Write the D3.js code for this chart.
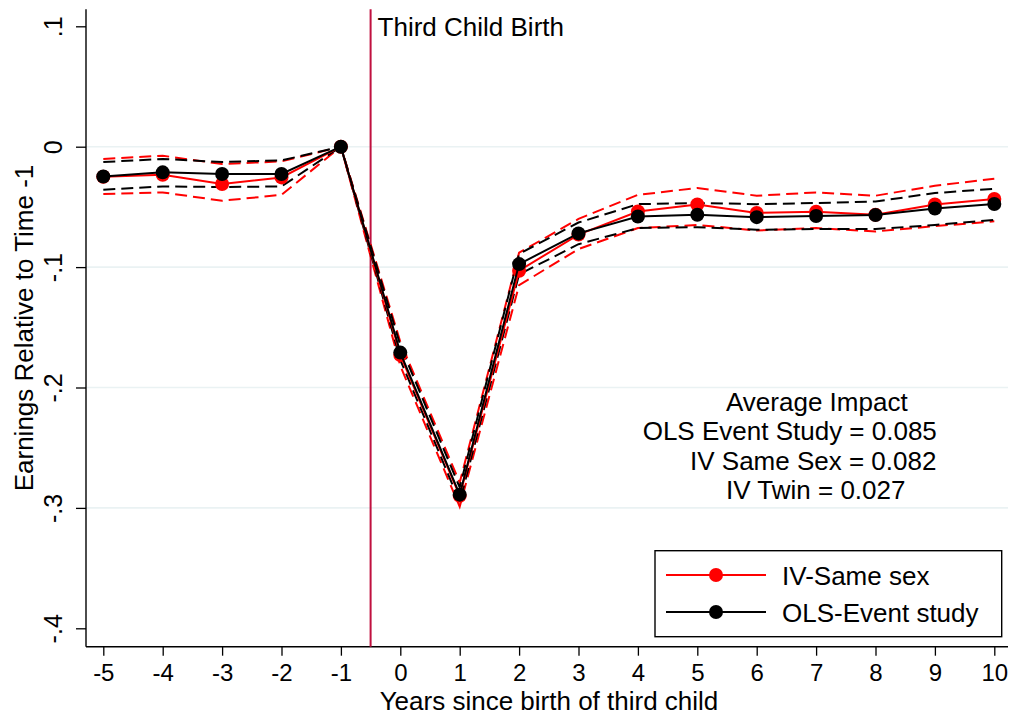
<!DOCTYPE html>
<html><head><meta charset="utf-8">
<script src="https://cdn.jsdelivr.net/npm/d3@7"></script>
<style>
html,body{margin:0;padding:0;background:#fff;}
svg{display:block;font-family:"Liberation Sans",Arial,Helvetica,sans-serif;}
</style></head>
<body>
<svg id="chart" width="1011" height="716"></svg>
<script>
const years = [-5,-4,-3,-2,-1,0,1,2,3,4,5,6,7,8,9,10];
const ols   = [-0.0247,-0.0213,-0.0227,-0.0227,0,-0.171,-0.289,-0.0975,-0.072,-0.058,-0.0565,-0.0585,-0.0576,-0.0568,-0.0513,-0.0476];
const olsLo = [-0.0357,-0.033,-0.0335,-0.033,0,-0.177,-0.295,-0.106,-0.081,-0.0676,-0.0668,-0.069,-0.0684,-0.0684,-0.065,-0.0607];
const olsHi = [-0.0127,-0.0102,-0.0127,-0.0114,0,-0.165,-0.283,-0.089,-0.063,-0.0477,-0.0468,-0.0477,-0.0468,-0.0455,-0.0385,-0.035];
const iv    = [-0.025,-0.0233,-0.031,-0.0255,0,-0.173,-0.290,-0.103,-0.073,-0.0538,-0.048,-0.055,-0.054,-0.0565,-0.048,-0.0435];
const ivLo  = [-0.0393,-0.038,-0.0449,-0.040,0,-0.182,-0.299,-0.115,-0.085,-0.0676,-0.065,-0.0696,-0.0676,-0.0704,-0.066,-0.062];
const ivHi  = [-0.0102,-0.0075,-0.0144,-0.0122,0,-0.162,-0.279,-0.088,-0.060,-0.040,-0.0343,-0.0407,-0.038,-0.0407,-0.0324,-0.0266];
const xTickLabels = ["-5","-4","-3","-2","-1","0","1","2","3","4","5","6","7","8","9","10"];
const yTicks = [0.1,0,-0.1,-0.2,-0.3,-0.4];
const yTickLabels = [".1","0","-.1","-.2","-.3","-.4"];
const gridVals = [0,-0.1,-0.2,-0.3];
const eventX = -0.5;
const eventLabel = "Third Child Birth";
const legendLabels = ["IV-Same sex","OLS-Event study"];
const noteLines = ["Average Impact","OLS Event Study = 0.085","IV Same Sex = 0.082","IV Twin = 0.027"];
const xTitle = "Years since birth of third child";
const yTitle = "Earnings Relative to Time -1";

const svg = d3.select("#chart");
const x = d3.scaleLinear().domain([-5,10]).range([103.3,994.3]);
const y = d3.scaleLinear().domain([-0.4,0.1]).range([628.3,26.3]);
const pLeft = 86, pRight = 1008, pTop = 9.3, pBottom = 646.7;

// grid
svg.append("g").selectAll("line").data(gridVals).join("line")
  .attr("x1",pLeft).attr("x2",pRight).attr("y1",d=>y(d)).attr("y2",d=>y(d))
  .attr("stroke","#eaf2f3").attr("stroke-width",1.6);

// axes
const yAxis = d3.axisLeft(y).tickValues(yTicks).tickSize(10).tickSizeOuter(0)
  .tickFormat((d,i)=>yTickLabels[i]);
const gy = svg.append("g").attr("transform",`translate(${pLeft},0)`).call(yAxis);
gy.select(".domain").remove();
gy.selectAll(".tick line").attr("stroke","#000").attr("stroke-width",1.3);
gy.selectAll(".tick text").attr("font-size",25).attr("fill","#000")
  .attr("text-anchor","middle").attr("x",null).attr("dy",null)
  .attr("transform","translate(-24,0) rotate(-90)");
svg.append("line").attr("x1",pLeft).attr("x2",pLeft).attr("y1",pTop).attr("y2",pBottom)
  .attr("stroke","#000").attr("stroke-width",1.4);

const xAxis = d3.axisBottom(x).tickValues(years).tickSize(9).tickSizeOuter(0)
  .tickFormat((d,i)=>xTickLabels[i]);
const gx = svg.append("g").attr("transform",`translate(0,${pBottom})`).call(xAxis);
gx.select(".domain").remove();
gx.selectAll(".tick line").attr("stroke","#000").attr("stroke-width",1.3);
gx.selectAll(".tick text").attr("font-size",24).attr("fill","#000").attr("y",34).attr("dy",null);
svg.append("line").attr("x1",pLeft).attr("x2",pRight).attr("y1",pBottom).attr("y2",pBottom)
  .attr("stroke","#000").attr("stroke-width",1.4);

// titles
svg.append("text").attr("x",549).attr("y",710).attr("text-anchor","middle")
  .attr("font-size",26).text(xTitle);
svg.append("text").attr("transform",`translate(33,328) rotate(-90)`).attr("text-anchor","middle")
  .attr("font-size",26).text(yTitle);

// event line
svg.append("line").attr("x1",x(eventX)).attr("x2",x(eventX)).attr("y1",pTop).attr("y2",pBottom)
  .attr("stroke","#c0103f").attr("stroke-width",2);
svg.append("text").attr("x",x(eventX)+7).attr("y",36).attr("font-size",26).text(eventLabel);

// series
const line = d3.line().x((d,i)=>x(years[i])).y(d=>y(d));
function dashed(arr,col){
  svg.append("path").attr("d",line(arr)).attr("fill","none").attr("stroke",col)
    .attr("stroke-width",2).attr("stroke-dasharray","12,6");
}
dashed(ivHi,"#ff0000"); dashed(ivLo,"#ff0000");
dashed(olsHi,"#000"); dashed(olsLo,"#000");
function solid(arr,col){
  svg.append("path").attr("d",line(arr)).attr("fill","none").attr("stroke",col).attr("stroke-width",2);
  svg.append("g").selectAll("circle").data(arr).join("circle")
    .attr("cx",(d,i)=>x(years[i])).attr("cy",d=>y(d)).attr("r",7).attr("fill",col);
}
solid(iv,"#ff0000");
solid(ols,"#000");

// note
const noteX = [726,642.7,690,726];
const noteY = [411,440,469.5,499];
noteLines.forEach((t,i)=>{
  svg.append("text").attr("x",noteX[i]).attr("y",noteY[i]).attr("font-size",26).text(t);
});

// legend
svg.append("rect").attr("x",655).attr("y",550.7).attr("width",346.7).attr("height",86)
  .attr("fill","#fff").attr("stroke","#000").attr("stroke-width",1.4);
const legCols = ["#ff0000","#000"];
const legY = [575,612];
legendLabels.forEach((t,i)=>{
  svg.append("line").attr("x1",666).attr("x2",766).attr("y1",legY[i]).attr("y2",legY[i])
    .attr("stroke",legCols[i]).attr("stroke-width",2);
  svg.append("circle").attr("cx",716).attr("cy",legY[i]).attr("r",7).attr("fill",legCols[i]);
  svg.append("text").attr("x",782).attr("y",legY[i]+9.5).attr("font-size",26).text(t);
});
</script>
</body></html>
